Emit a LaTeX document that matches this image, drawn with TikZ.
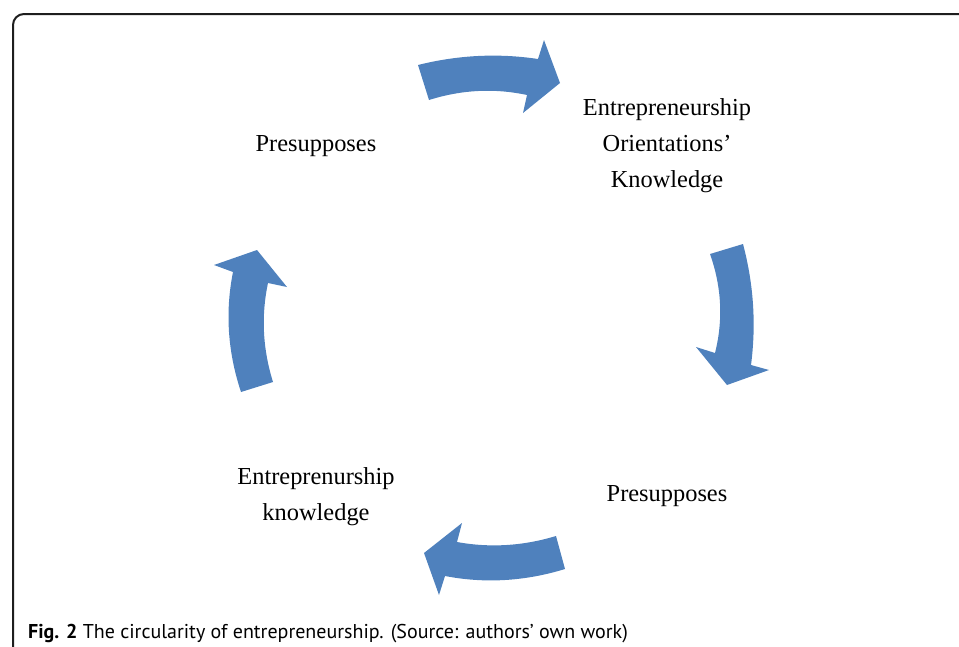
\documentclass[tikz,border=0pt]{standalone}
\usepackage{fontspec}
\setmainfont{Liberation Serif}
\newfontfamily\capfont{PT Sans}
\definecolor{arrowblue}{HTML}{4F81BD}
\definecolor{framegray}{HTML}{1E1E1E}
\begin{document}
\begin{tikzpicture}[x=1pt,y=-1pt,
  blockarrow/.style={fill=arrowblue,draw=none},
  lbl/.style={align=center,font=\fontsize{24.4}{36}\selectfont,inner sep=0pt}]
\useasboundingbox (0,0) rectangle (959,646);
\clip (0,0) rectangle (959,646);
% frame
\draw[framegray,line width=2pt] (13,700) -- (13,25) arc[start angle=180,end angle=270,radius=11] -- (1000,14);
% top arrow
\path[blockarrow] (418,65) .. controls (458,55) and (498,53) .. (538,59) -- (544,40) -- (560,83) -- (523,113) -- (527,95) .. controls (494.3,88) and (461.7,89.7) .. (429,100) -- cycle;
% right arrow
\path[blockarrow] (743,244) .. controls (753.7,284.3) and (756.3,324.7) .. (751,365) -- (769,370) -- (727,385) -- (696,347) -- (715,353) .. controls (723.3,320) and (721.7,287) .. (710,254) -- cycle;
% bottom arrow
\path[blockarrow] (565,569) .. controls (525,581.3) and (485,583.7) .. (445,576) -- (439,595) -- (424,553) -- (462,523) -- (457,542) .. controls (490,548) and (523,546) .. (556,536) -- cycle;
% left arrow
\path[blockarrow] (241,392) .. controls (227.7,352) and (225,312) .. (233,272) -- (214,265) -- (257,250) -- (287,287) -- (268,283) .. controls (261,316) and (262.7,349) .. (273,382) -- cycle;
% labels
\node[lbl] (pre1) at (316,146) {Presupposes};
\node[lbl] (eok) at (667,146) {Entrepreneurship\\Orientations’\\Knowledge};
\node[lbl] (pre2) at (667,496) {Presupposes};
\node[lbl] (ek) at (316,496.5) {Entreprenurship\\knowledge};
\node[anchor=base west,inner sep=0pt,font=\capfont\fontsize{20}{24}\selectfont] (cap) at (28,638) {\textbf{Fig. 2} The circularity of entrepreneurship. (Source: authors’ own work)};
\end{tikzpicture}
\end{document}
